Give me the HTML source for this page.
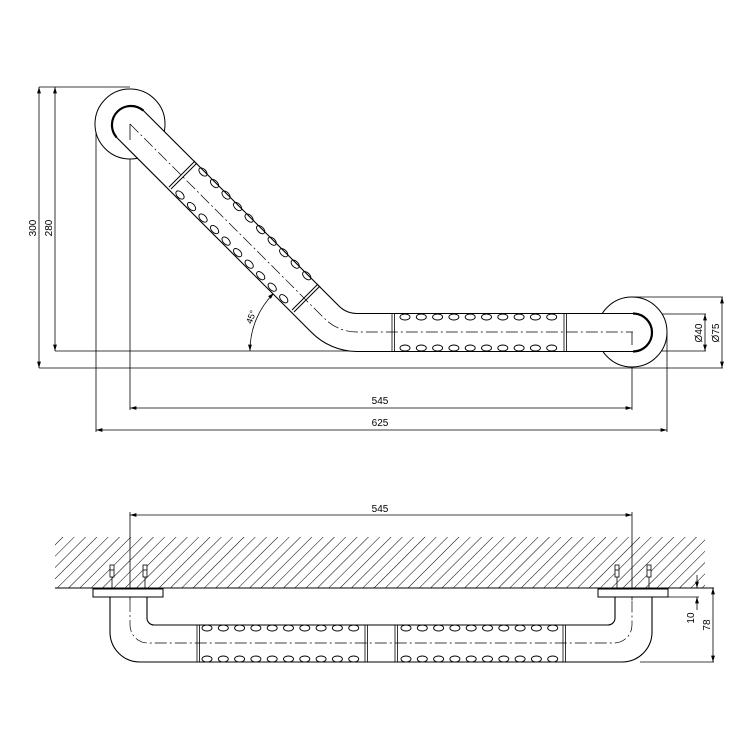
<!DOCTYPE html>
<html><head><meta charset="utf-8"><style>html,body{margin:0;padding:0;background:#fff}svg{display:block}</style></head><body>
<svg width="750" height="750" viewBox="0 0 750 750" xmlns="http://www.w3.org/2000/svg" font-family="Liberation Sans, sans-serif" font-size="10">
<defs>
<pattern id="h" patternUnits="userSpaceOnUse" width="8" height="8" patternTransform="rotate(45)">
<line x1="0" y1="0" x2="0" y2="8" stroke="#000" stroke-width="1"/>
</pattern>
<marker id="a" viewBox="0 0 10 6" refX="10" refY="3" markerWidth="8" markerHeight="5" orient="auto-start-reverse"><path d="M0,0 L10,3 L0,6 Z" fill="#000"/></marker>
</defs>
<g stroke="#000" fill="none" stroke-width="0.8">
<!-- top view dimension/extension lines -->
<line x1="39" y1="87" x2="130" y2="87"/>
<line x1="39" y1="368" x2="723" y2="368"/>
<line x1="55" y1="351" x2="634" y2="351"/>
<line x1="39" y1="87" x2="39" y2="368" marker-start="url(#a)" marker-end="url(#a)"/>
<line x1="55" y1="87" x2="55" y2="351" marker-start="url(#a)" marker-end="url(#a)"/>
<line x1="96" y1="124" x2="96" y2="432"/>
<line x1="130" y1="124" x2="130" y2="410"/>
<line x1="632" y1="332" x2="632" y2="410"/>
<line x1="667" y1="332" x2="667" y2="432"/>
<line x1="130" y1="408" x2="632" y2="408" marker-start="url(#a)" marker-end="url(#a)"/>
<line x1="96" y1="430" x2="667" y2="430" marker-start="url(#a)" marker-end="url(#a)"/>
<line x1="632" y1="297" x2="723" y2="297"/>
<line x1="640" y1="314" x2="706" y2="314"/>
<line x1="640" y1="351" x2="706" y2="351"/>
<line x1="705" y1="314" x2="705" y2="351" marker-start="url(#a)" marker-end="url(#a)"/>
<line x1="722" y1="297" x2="722" y2="368" marker-start="url(#a)" marker-end="url(#a)"/>
<path d="M250,351 A81,81 0 0 1 274,293" marker-start="url(#a)" marker-end="url(#a)"/>
<!-- rosettes -->
<circle cx="130" cy="124" r="35" fill="#fff" stroke-width="1"/>
<circle cx="632" cy="332" r="35" fill="#fff" stroke-width="1"/>
<!-- tube -->
<path d="M143.4,110.6 L338.3,305.4 A26,26 0 0 0 356.7,313.5 L633,313.5 A19,19 0 0 1 633,351.5 L356.6,351.5 A64,64 0 0 1 311.4,332.3 L116.6,137.4 A19,19 0 0 1 143.4,110.6 Z" fill="#fff" stroke-width="1.1"/>
<path d="M116.6,137.4 A19,19 0 0 1 143.4,110.6" stroke-width="2.2"/>
<path d="M633,313.5 A19,19 0 0 1 633,351.5" stroke-width="2.2"/>
<path d="M130,124 L324.8,318.8 A45,45 0 0 0 356.6,332 L633,332" stroke-dasharray="12,3,2,3" stroke-width="0.7"/>
<line x1="130" y1="124" x2="130" y2="140"/>
<line x1="632" y1="332" x2="632" y2="345"/>
<!-- rings diagonal -->
<line x1="169" y1="187" x2="195" y2="161" stroke-width="1"/>
<line x1="171" y1="189" x2="197" y2="163" stroke-width="1"/>
<line x1="292" y1="310" x2="318" y2="284" stroke-width="1"/>
<line x1="294" y1="312" x2="320" y2="286" stroke-width="1"/>
<!-- rings horizontal -->
<line x1="392" y1="313.5" x2="392" y2="351.5"/><line x1="394.5" y1="313.5" x2="394.5" y2="351.5"/>
<line x1="564" y1="313.5" x2="564" y2="351.5"/><line x1="566.5" y1="313.5" x2="566.5" y2="351.5"/>
<g stroke-width="0.9">
<ellipse cx="405" cy="317" rx="5" ry="3"/><ellipse cx="421.3" cy="317" rx="5" ry="3"/><ellipse cx="437.6" cy="317" rx="5" ry="3"/><ellipse cx="453.9" cy="317" rx="5" ry="3"/><ellipse cx="470.2" cy="317" rx="5" ry="3"/><ellipse cx="486.5" cy="317" rx="5" ry="3"/><ellipse cx="502.8" cy="317" rx="5" ry="3"/><ellipse cx="519.1" cy="317" rx="5" ry="3"/><ellipse cx="535.4" cy="317" rx="5" ry="3"/><ellipse cx="551.7" cy="317" rx="5" ry="3"/>
<ellipse cx="405" cy="348" rx="5" ry="3"/><ellipse cx="421.3" cy="348" rx="5" ry="3"/><ellipse cx="437.6" cy="348" rx="5" ry="3"/><ellipse cx="453.9" cy="348" rx="5" ry="3"/><ellipse cx="470.2" cy="348" rx="5" ry="3"/><ellipse cx="486.5" cy="348" rx="5" ry="3"/><ellipse cx="502.8" cy="348" rx="5" ry="3"/><ellipse cx="519.1" cy="348" rx="5" ry="3"/><ellipse cx="535.4" cy="348" rx="5" ry="3"/><ellipse cx="551.7" cy="348" rx="5" ry="3"/>
</g>
<g stroke-width="0.9">
<g transform="translate(203,172) rotate(45)"><ellipse cx="0" cy="0" rx="5" ry="3"/><ellipse cx="16.3" cy="0" rx="5" ry="3"/><ellipse cx="32.6" cy="0" rx="5" ry="3"/><ellipse cx="48.9" cy="0" rx="5" ry="3"/><ellipse cx="65.2" cy="0" rx="5" ry="3"/><ellipse cx="81.5" cy="0" rx="5" ry="3"/><ellipse cx="97.8" cy="0" rx="5" ry="3"/><ellipse cx="114.1" cy="0" rx="5" ry="3"/><ellipse cx="130.4" cy="0" rx="5" ry="3"/><ellipse cx="146.7" cy="0" rx="5" ry="3"/></g>
<g transform="translate(180,195) rotate(45)"><ellipse cx="0" cy="0" rx="5" ry="3"/><ellipse cx="16.3" cy="0" rx="5" ry="3"/><ellipse cx="32.6" cy="0" rx="5" ry="3"/><ellipse cx="48.9" cy="0" rx="5" ry="3"/><ellipse cx="65.2" cy="0" rx="5" ry="3"/><ellipse cx="81.5" cy="0" rx="5" ry="3"/><ellipse cx="97.8" cy="0" rx="5" ry="3"/><ellipse cx="114.1" cy="0" rx="5" ry="3"/><ellipse cx="130.4" cy="0" rx="5" ry="3"/><ellipse cx="146.7" cy="0" rx="5" ry="3"/></g>
</g>

<!-- bottom view -->
<rect x="55" y="537" width="650" height="51" fill="url(#h)" stroke="none"/>
<line x1="55" y1="588" x2="714" y2="588" stroke-width="1"/>
<line x1="130" y1="512" x2="130" y2="600"/>
<line x1="632" y1="512" x2="632" y2="600"/>
<line x1="130" y1="515" x2="632" y2="515" marker-start="url(#a)" marker-end="url(#a)"/>
<rect x="93" y="589" width="70" height="8" fill="#fff" stroke-width="1"/>
<rect x="598" y="589" width="70" height="8" fill="#fff" stroke-width="1"/>
<g fill="#fff" stroke-width="0.8">
<rect x="110" y="565" width="4" height="12"/><line x1="112" y1="577" x2="112" y2="588"/><line x1="110" y1="570" x2="114" y2="570"/>
<rect x="143" y="565" width="4" height="12"/><line x1="145" y1="577" x2="145" y2="588"/><line x1="143" y1="570" x2="147" y2="570"/>
<rect x="615" y="565" width="4" height="12"/><line x1="617" y1="577" x2="617" y2="588"/><line x1="615" y1="570" x2="619" y2="570"/>
<rect x="647" y="565" width="4" height="12"/><line x1="649" y1="577" x2="649" y2="588"/><line x1="647" y1="570" x2="651" y2="570"/>
</g>
<path d="M110,597 L110,632 A30,30 0 0 0 140,662 L622,662 A30,30 0 0 0 652,632 L652,597 M615,597 L615,618 A7,7 0 0 1 608,625 L154,625 A7,7 0 0 1 147,618 L147,597" stroke-width="1.1"/>
<path d="M130,600 L130,625 A18,18 0 0 0 148,643 L614,643 A18,18 0 0 0 632,625 L632,600" stroke-dasharray="12,3,2,3" stroke-width="0.7"/>
<line x1="197" y1="625" x2="197" y2="662"/><line x1="199.5" y1="625" x2="199.5" y2="662"/>
<line x1="365" y1="625" x2="365" y2="662"/><line x1="367.5" y1="625" x2="367.5" y2="662"/>
<line x1="395" y1="625" x2="395" y2="662"/><line x1="397.5" y1="625" x2="397.5" y2="662"/>
<line x1="563" y1="625" x2="563" y2="662"/><line x1="565.5" y1="625" x2="565.5" y2="662"/>
<g stroke-width="0.9">
<g transform="translate(207,0)"><ellipse cx="0" cy="628" rx="5" ry="3"/><ellipse cx="16.3" cy="628" rx="5" ry="3"/><ellipse cx="32.6" cy="628" rx="5" ry="3"/><ellipse cx="48.9" cy="628" rx="5" ry="3"/><ellipse cx="65.2" cy="628" rx="5" ry="3"/><ellipse cx="81.5" cy="628" rx="5" ry="3"/><ellipse cx="97.8" cy="628" rx="5" ry="3"/><ellipse cx="114.1" cy="628" rx="5" ry="3"/><ellipse cx="130.4" cy="628" rx="5" ry="3"/><ellipse cx="146.7" cy="628" rx="5" ry="3"/>
<ellipse cx="0" cy="659" rx="5" ry="3"/><ellipse cx="16.3" cy="659" rx="5" ry="3"/><ellipse cx="32.6" cy="659" rx="5" ry="3"/><ellipse cx="48.9" cy="659" rx="5" ry="3"/><ellipse cx="65.2" cy="659" rx="5" ry="3"/><ellipse cx="81.5" cy="659" rx="5" ry="3"/><ellipse cx="97.8" cy="659" rx="5" ry="3"/><ellipse cx="114.1" cy="659" rx="5" ry="3"/><ellipse cx="130.4" cy="659" rx="5" ry="3"/><ellipse cx="146.7" cy="659" rx="5" ry="3"/></g>
<g transform="translate(406,0)"><ellipse cx="0" cy="628" rx="5" ry="3"/><ellipse cx="16.3" cy="628" rx="5" ry="3"/><ellipse cx="32.6" cy="628" rx="5" ry="3"/><ellipse cx="48.9" cy="628" rx="5" ry="3"/><ellipse cx="65.2" cy="628" rx="5" ry="3"/><ellipse cx="81.5" cy="628" rx="5" ry="3"/><ellipse cx="97.8" cy="628" rx="5" ry="3"/><ellipse cx="114.1" cy="628" rx="5" ry="3"/><ellipse cx="130.4" cy="628" rx="5" ry="3"/><ellipse cx="146.7" cy="628" rx="5" ry="3"/>
<ellipse cx="0" cy="659" rx="5" ry="3"/><ellipse cx="16.3" cy="659" rx="5" ry="3"/><ellipse cx="32.6" cy="659" rx="5" ry="3"/><ellipse cx="48.9" cy="659" rx="5" ry="3"/><ellipse cx="65.2" cy="659" rx="5" ry="3"/><ellipse cx="81.5" cy="659" rx="5" ry="3"/><ellipse cx="97.8" cy="659" rx="5" ry="3"/><ellipse cx="114.1" cy="659" rx="5" ry="3"/><ellipse cx="130.4" cy="659" rx="5" ry="3"/><ellipse cx="146.7" cy="659" rx="5" ry="3"/></g>
</g>
<line x1="668" y1="597" x2="699" y2="597"/>
<line x1="640" y1="662" x2="714" y2="662"/>
<line x1="697" y1="575" x2="697" y2="588" marker-end="url(#a)"/>
<line x1="697" y1="610" x2="697" y2="597" marker-end="url(#a)"/>
<line x1="713" y1="588" x2="713" y2="662" marker-start="url(#a)" marker-end="url(#a)"/>
</g>
<g fill="#000">
<text x="380" y="404" text-anchor="middle">545</text>
<text x="380" y="426" text-anchor="middle">625</text>
<text x="380" y="512" text-anchor="middle">545</text>
<text transform="translate(36,228) rotate(-90)" text-anchor="middle">300</text>
<text transform="translate(52,228) rotate(-90)" text-anchor="middle">280</text>
<text transform="translate(702,333) rotate(-90)" text-anchor="middle">Ø40</text>
<text transform="translate(719,333) rotate(-90)" text-anchor="middle">Ø75</text>
<text transform="translate(694,618) rotate(-90)" text-anchor="middle">10</text>
<text transform="translate(710,625) rotate(-90)" text-anchor="middle">78</text>
<text transform="translate(254,318) rotate(-70)" text-anchor="middle" font-size="9">45°</text>
</g>
</svg>
</body></html>
